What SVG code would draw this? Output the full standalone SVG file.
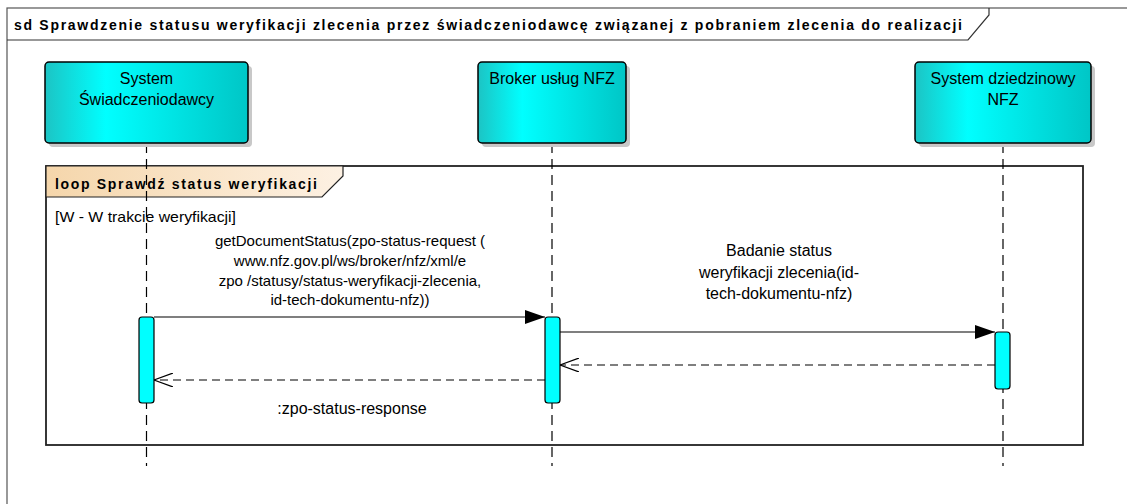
<svg xmlns="http://www.w3.org/2000/svg" width="1127" height="504" viewBox="0 0 1127 504">
<defs>
<linearGradient id="cyanG" x1="0" y1="0" x2="1" y2="0">
<stop offset="0" stop-color="#1cc4c4"/>
<stop offset="0.3" stop-color="#00ffff"/>
<stop offset="1" stop-color="#00c6c6"/>
</linearGradient>
<linearGradient id="tabG" x1="0" y1="0" x2="1" y2="0">
<stop offset="0" stop-color="#f5d6ab"/>
<stop offset="1" stop-color="#fdf1e3"/>
</linearGradient>
<marker id="filled" viewBox="0 0 20 14" refX="20" refY="7" markerWidth="20" markerHeight="14" markerUnits="userSpaceOnUse" orient="auto">
<path d="M0,0 L20,7 L0,14 Z" fill="#000"/>
</marker>
<marker id="open" viewBox="0 0 20 14" refX="19" refY="7" markerWidth="20" markerHeight="14" markerUnits="userSpaceOnUse" orient="auto">
<path d="M0,0 L19,7 L0,14" fill="none" stroke="#000" stroke-width="1.2"/>
</marker>
</defs>
<style>
.t{font-family:"Liberation Sans",Arial,sans-serif;fill:#000}
.b{font-weight:bold;font-size:14px}
.n{font-size:15px}
.h{font-size:16px}
.life{stroke:#000;stroke-width:1.2;stroke-dasharray:10,6;fill:none}
.box{fill:url(#cyanG);stroke:#000;stroke-width:1.5}
.shadow{fill:#c8c8c8}
.act{fill:#00ffff;stroke:#000;stroke-width:1.2}
.msg{stroke:#000;stroke-width:1.2;fill:none}
.ret{stroke:#000;stroke-width:1.2;fill:none;stroke-dasharray:8,5}
</style>
<rect width="1127" height="504" fill="#fff"/>

<g id="frame">
<rect x="7" y="8" width="1130" height="510" fill="none" stroke="#555" stroke-width="1.2"/>
<path d="M7,40 L968,40 L989,15 L989,8" fill="none" stroke="#333" stroke-width="1.2"/>
<text class="t b" x="14" y="30" textLength="948" lengthAdjust="spacing">sd Sprawdzenie statusu weryfikacji zlecenia przez świadczeniodawcę związanej z pobraniem zlecenia do realizacji</text>
</g>

<g id="loop">
<rect x="46" y="166" width="1037" height="279" fill="none" stroke="#222" stroke-width="1.8"/>
<path d="M46,166 L343,166 L343,176 L322,197 L46,197 Z" fill="url(#tabG)" stroke="#222" stroke-width="1.2"/>
<text class="t b" x="55" y="189" textLength="262" lengthAdjust="spacing">loop Sprawdź status weryfikacji</text>
<text class="t n" x="55" y="222" textLength="181" lengthAdjust="spacingAndGlyphs">[W - W trakcie weryfikacji]</text>
</g>

<g id="lifelines">
<line class="life" x1="146.5" y1="143" x2="146.5" y2="466"/>
<line class="life" x1="552" y1="143" x2="552" y2="466"/>
<line class="life" x1="1003" y1="143" x2="1003" y2="466"/>
</g>

<g id="n1">
<rect class="shadow" x="49" y="66" width="203" height="81" rx="4"/>
<rect class="box" x="45" y="62" width="203" height="81" rx="4"/>
<text class="t h" x="146.5" y="84" text-anchor="middle">System</text>
<text class="t h" x="146.5" y="105" text-anchor="middle">Świadczeniodawcy</text>
</g>

<g id="n2">
<rect class="shadow" x="482" y="66" width="148" height="81" rx="4"/>
<rect class="box" x="478" y="62" width="148" height="81" rx="4"/>
<text class="t h" x="552" y="84" text-anchor="middle">Broker usług NFZ</text>
</g>

<g id="n3">
<rect class="shadow" x="919" y="66" width="176" height="81" rx="4"/>
<rect class="box" x="915" y="62" width="176" height="81" rx="4"/>
<text class="t h" x="1003" y="84" text-anchor="middle">System dziedzinowy</text>
<text class="t h" x="1003" y="105" text-anchor="middle">NFZ</text>
</g>

<g id="connectors">
<line class="msg" x1="154" y1="317" x2="545" y2="317" marker-end="url(#filled)"/>
<line class="msg" x1="560" y1="332" x2="995" y2="332" marker-end="url(#filled)"/>
<line class="ret" x1="995" y1="365" x2="560" y2="365" marker-end="url(#open)"/>
<line class="ret" x1="545" y1="380" x2="154" y2="380" marker-end="url(#open)"/>
<text class="t n" x="350" y="246" text-anchor="middle">getDocumentStatus(zpo-status-request (</text>
<text class="t n" x="350" y="266" text-anchor="middle">www.nfz.gov.pl/ws/broker/nfz/xml/e</text>
<text class="t n" x="350" y="286" text-anchor="middle">zpo /statusy/status-weryfikacji-zlecenia,</text>
<text class="t n" x="350" y="305" text-anchor="middle">id-tech-dokumentu-nfz))</text>
<text class="t h" x="779" y="256" text-anchor="middle">Badanie status</text>
<text class="t h" x="779" y="278" text-anchor="middle">weryfikacji zlecenia(id-</text>
<text class="t h" x="779" y="299" text-anchor="middle">tech-dokumentu-nfz)</text>
<text class="t h" x="352" y="414" text-anchor="middle">:zpo-status-response</text>
</g>

<g id="activations">
<rect class="act" x="139" y="317" width="15" height="86" rx="3"/>
<rect class="act" x="545" y="317" width="15" height="86" rx="3"/>
<rect class="act" x="995" y="332" width="15" height="57" rx="3"/>
</g>
</svg>
